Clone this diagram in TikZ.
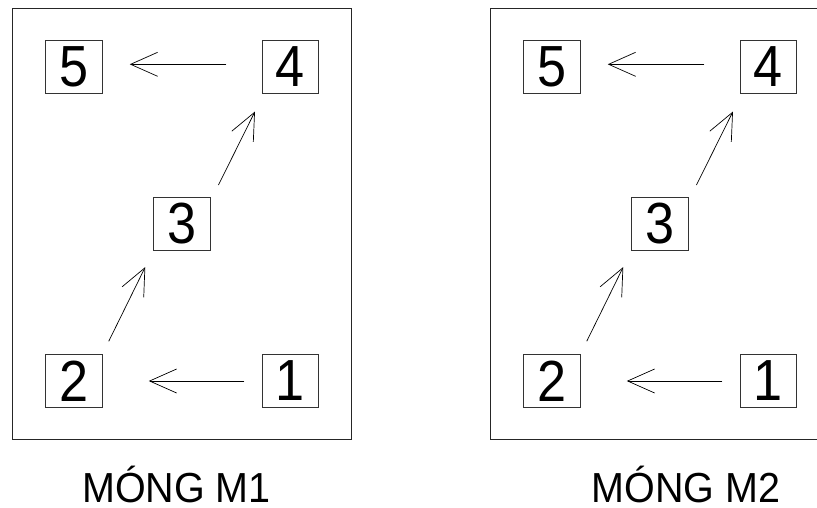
\documentclass[tikz,border=0pt]{standalone}
\usepackage{fontspec}
\setmainfont{Liberation Sans}
\usetikzlibrary{arrows.meta}
\tikzset{
  frame/.style={draw=black!85, line width=0.9pt},
  numbox/.style={draw=black!80, line width=0.9pt, minimum width=56.6pt, minimum height=53.4pt, inner sep=0pt,
    font=\fontsize{58}{58}\selectfont},
  arr/.style={draw=black, line width=0.7pt, -{Straight Barb[length=27pt,width=24pt,line width=0.7pt]}},
  title/.style={anchor=base, inner sep=0pt, font=\fontsize{42}{42}\selectfont}
}
\newcommand{\dg}[1]{\scalebox{0.9}[1]{#1}}
\begin{document}
\begin{tikzpicture}[x=1pt,y=-1pt]
\useasboundingbox (0,0) rectangle (817,508);
\clip (0,0) rectangle (817,508);
\foreach \p/\dx in {a/0,b/478}{
  \begin{scope}[xshift=\dx pt]
    \draw[frame] (12.7,8.3) rectangle (351.7,439.3);
    \node[numbox] (\p5) at (74,66.7) {\dg{5}};
    \node[numbox] (\p4) at (290.3,66.7) {\dg{4}};
    \node[numbox] (\p3) at (182,223.9) {\dg{3}};
    \node[numbox] (\p2) at (74,381) {\dg{2}};
    \node[numbox] (\p1) at (290.3,381) {\dg{1}};
    \draw[arr] ([xshift=-17.3pt]\p1.west) -- ([xshift=46pt]\p2.east);
    \draw[arr] ([xshift=6pt,yshift=12.6pt]\p2.north east) -- ([xshift=-8pt,yshift=-16pt]\p3.south west);
    \draw[arr] ([xshift=7.7pt,yshift=11.7pt]\p3.north east) -- ([xshift=-6.6pt,yshift=-17.7pt]\p4.south west);
    \draw[arr] ([xshift=-35.3pt,yshift=2.4pt]\p4.west) -- ([xshift=27pt,yshift=2.4pt]\p5.east);
  \end{scope}
}
\node[title] (t1) at (176.5,502) {\scalebox{0.94}[1]{MÓNG M1}};
\node[title] (t2) at (686,502) {\scalebox{0.94}[1]{MÓNG M2}};
\end{tikzpicture}
\end{document}
